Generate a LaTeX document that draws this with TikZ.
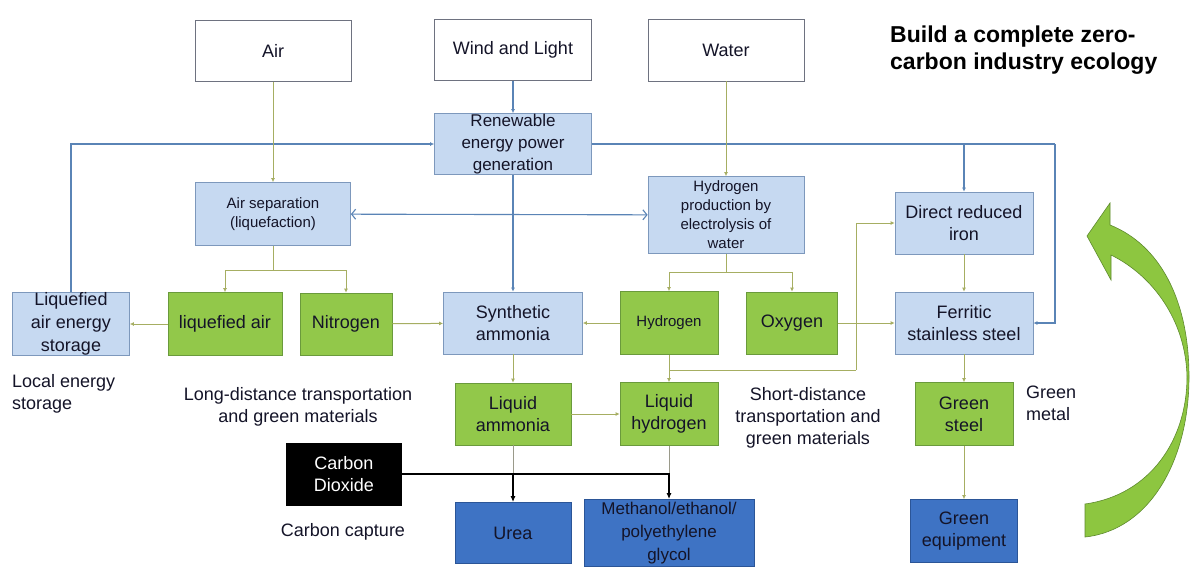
\documentclass[tikz,border=0pt]{standalone}
\usepackage{fontspec}
\setmainfont{Liberation Sans}
\usetikzlibrary{arrows.meta}
\definecolor{textc}{HTML}{141428}
\definecolor{wbord}{HTML}{6E7280}
\definecolor{lbfill}{HTML}{C6D9F1}
\definecolor{lbbord}{HTML}{7D98BC}
\definecolor{gfill}{HTML}{92C84A}
\definecolor{gbord}{HTML}{6A9A3C}
\definecolor{dbfill}{HTML}{3E73C4}
\definecolor{dbbord}{HTML}{2B5597}
\definecolor{olivec}{HTML}{A6AE62}
\definecolor{bluec}{HTML}{5A84B6}
\definecolor{grayc}{HTML}{9A9A8A}
\definecolor{arrg}{HTML}{8DC640}
\definecolor{arrgd}{HTML}{5E8A2E}
\newcommand\fsA{\fontsize{18pt}{22pt}\selectfont}
\newcommand\fsB{\fontsize{17pt}{22pt}\selectfont}
\newcommand\fsC{\fontsize{15pt}{19pt}\selectfont}
\newcommand\fsT{\fontsize{23pt}{27pt}\selectfont\bfseries}
\tikzset{
  box/.style={rectangle, inner sep=0pt, align=center, font=\fsA, text=textc, line width=0.8pt},
  wbox/.style={box, draw=wbord, fill=white},
  lbbox/.style={box, draw=lbbord, fill=lbfill},
  gbox/.style={box, draw=gbord, fill=gfill},
  dbbox/.style={box, draw=dbbord, fill=dbfill},
  kbox/.style={box, draw=black, fill=black, text=white},
  sz/.style 2 args={minimum width=#1, minimum height=#2},
  oline/.style={draw=olivec, line width=1pt, -{Latex[length=4pt,width=4pt]}},
  olineplain/.style={draw=olivec, line width=1pt},
  bline/.style={draw=bluec, line width=1.1pt, -{Latex[length=4pt,width=4pt]}},
  blineplain/.style={draw=bluec, line width=1.1pt},
  dblarrow/.style={draw=bluec, line width=1.1pt, {Straight Barb[length=4pt,width=10pt]}-{Straight Barb[length=4pt,width=10pt]}},
  kline/.style={draw=black, line width=1.4pt, -{Latex[length=6pt,width=5pt]}},
  gline/.style={draw=grayc, line width=1pt},
  plain/.style={inner sep=0pt, font=\fsA, text=textc},
}
\begin{document}
\begin{tikzpicture}[x=1pt,y=-1pt]
\useasboundingbox (0,0) rectangle (1200,574);
\fill[white] (0,0) rectangle (1200,574);

% top row
\node[wbox, sz={156}{61}] (air) at (273,51) {Air};
\node[wbox, sz={157}{61}] (wind) at (513,50) {Wind and Light};
\node[wbox, sz={156}{62}] (water) at (726,50) {Water};

\node[lbbox, sz={157}{61}, font=\fsB] (renew) at (513,144) {Renewable\\energy power\\generation};
\node[lbbox, sz={155}{63}, font=\fsC] (airsep) at (273,214) {Air separation\\(liquefaction)};
\node[lbbox, sz={156}{77}, font=\fsC] (hprod) at (726,215) {Hydrogen\\production by\\electrolysis of\\water};
\node[lbbox, sz={138}{62}] (dri) at (964,223) {Direct reduced\\iron};

% middle row
\node[lbbox, sz={117}{63}, font=\fontsize{18pt}{23pt}\selectfont] (laes) at (71,324) {Liquefied\\air energy\\storage};
\node[gbox, sz={114}{63}] (liqair) at (225,324) {liquefied air};
\node[gbox, sz={92}{62}] (nitro) at (346,324) {Nitrogen};
\node[lbbox, sz={139}{62}] (synam) at (513,323) {Synthetic\\ammonia};
\node[gbox, sz={98}{63}, font=\fsC] (hyd) at (669,323) {Hydrogen};
\node[gbox, sz={91}{62}] (oxy) at (792,323) {Oxygen};
\node[lbbox, sz={138}{62}] (ferr) at (964,323) {Ferritic\\stainless steel};

% lower rows
\node[gbox, sz={116}{62}] (liqam) at (513,414) {Liquid\\ammonia};
\node[gbox, sz={98}{63}] (liqh) at (669,414) {Liquid\\hydrogen};
\node[gbox, sz={98}{63}] (gsteel) at (964,414) {Green\\steel};
\node[kbox, sz={115}{62}] (co2) at (344,474) {Carbon\\Dioxide};
\node[dbbox, sz={116}{61}] (urea) at (513,533) {Urea};
\node[dbbox, sz={170}{67}, font=\fontsize{17pt}{23pt}\selectfont] (meth) at (669,533) {Methanol/ethanol/\\polyethylene\\glycol};
\node[dbbox, sz={107}{63}] (gequip) at (964,531) {Green\\equipment};

% free texts
\node[plain, anchor=north west, align=left] (t1) at (12,374) {Local energy\\storage};
\node[plain, align=center] (t2) at (298,407) {Long-distance transportation\\and green materials};
\node[plain] (t3) at (343,532) {Carbon capture};
\node[plain, align=center] (t4) at (808,418) {Short-distance\\transportation and\\green materials};
\node[plain, anchor=north west, align=left] (t5) at (1026,386) {Green\\metal};
\node[inner sep=0pt, font=\fsT, text=black, anchor=north west, align=left] (title) at (890,26) {Build a complete zero-\\carbon industry ecology};

% coordinates
\coordinate (rc) at (1055,144);
\coordinate (asj) at (273,270);
\coordinate (hpj) at (726,272);
\coordinate (hb) at (669,370);
\coordinate (hc) at (856,370);
\coordinate (laj) at (513,474);
\coordinate (lhj) at (669,474);

% connectors: blue
\draw[bline] (wind) -- (renew);
\draw[bline] (laes.north) |- (renew.west);
\draw[blineplain] (renew.east) -- (rc);
\draw[bline] (rc) |- (ferr.east);
\draw[bline] (dri.north |- renew.east) -- (dri.north);
\draw[bline] (renew) -- (synam);
\draw[dblarrow] (airsep) -- (hprod);

% connectors: olive
\draw[oline] (air) -- (airsep);
\draw[oline] (water) -- (hprod);
\draw[olineplain] (airsep.south) -- (asj);
\draw[oline] (asj) -| (liqair.north);
\draw[oline] (asj) -| (nitro.north);
\draw[oline] (liqair) -- (laes);
\draw[oline] (nitro) -- (synam);
\draw[olineplain] (hprod.south) -- (hpj);
\draw[oline] (hpj) -| (hyd.north);
\draw[oline] (hpj) -| (oxy.north);
\draw[oline] (hyd) -- (synam);
\draw[oline] (oxy) -- (ferr);
\draw[oline] (hyd) -- (liqh);
\draw[olineplain] (hb) -- (hc);
\draw[oline] (hc) |- (dri.west);
\draw[oline] (dri) -- (ferr);
\draw[oline] (ferr) -- (gsteel);
\draw[oline] (gsteel) -- (gequip);
\draw[oline] (synam) -- (liqam);
\draw[oline] (liqam) -- (liqh);

% carbon lines
\draw[gline] (liqam.south) -- (laj);
\draw[gline] (liqh.south) -- (lhj);
\draw[kline] (co2.east) -| (urea.north);
\draw[kline] (co2.east) -| (meth.north);

% green curved arrow
\draw[fill=arrg, draw=arrgd, line width=0.6pt]
  (1085,537) .. controls (1150,530) and (1189,460) .. (1189,377)
  .. controls (1189,300) and (1160,245) .. (1110,225)
  -- (1110,203) -- (1087,236) -- (1111,280) -- (1111,255)
  .. controls (1152,275) and (1186,320) .. (1187,377)
  .. controls (1187,440) and (1150,495) .. (1085,504) -- cycle;
\end{tikzpicture}
\end{document}
